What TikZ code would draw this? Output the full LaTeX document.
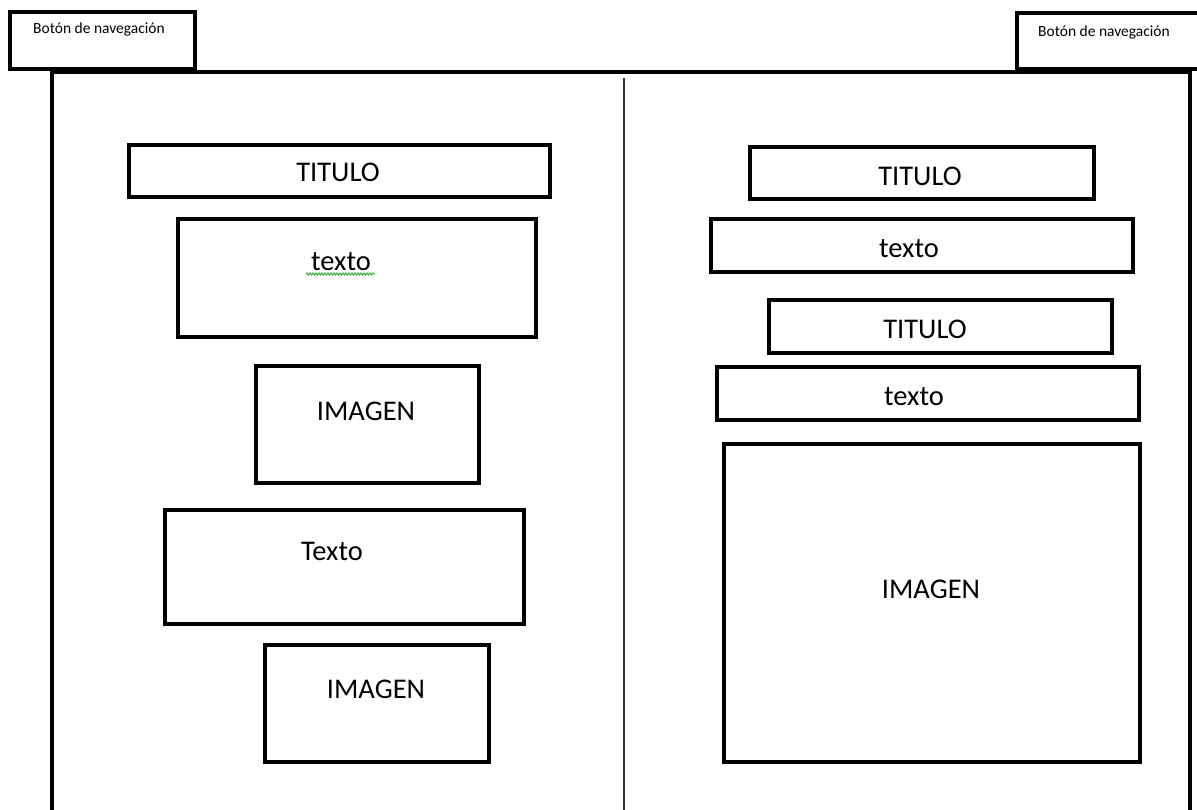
\documentclass[tikz,border=0pt]{standalone}
\usepackage{fontspec}
\setmainfont{Carlito}
\usetikzlibrary{decorations.pathmorphing}

\begin{document}
\begin{tikzpicture}[x=1pt,y=-1pt,
    caja/.style={draw=black, line width=4pt},
    marco/.style={draw=black, line width=4.5pt},
    etiqueta/.style={font=\fontsize{28.5}{30}\selectfont, text=black},
    boton/.style={font=\fontsize{15.5}{17}\selectfont, anchor=west, inner sep=0pt}]
    \clip (0,0) rectangle (1197,810);
    \fill[white] (0,0) rectangle (1197,810);

    % Marco de la pagina y linea central
    \draw[marco] (52,815) -- (52,72) -- (1190,72) -- (1190,815);
    \draw[line width=2pt, black!80] (624,78) -- (624,815);

    % Botones de navegacion arriba
    \filldraw[caja, fill=white] (10,12) rectangle (195,69);
    \filldraw[caja, fill=white] (1017,13) rectangle (1215,69);
    \node[boton] (navIzq) at (33,29) {Botón de navegación};
    \node[boton] (navDer) at (1038,32) {Botón de navegación};

    % Columna izquierda
    \draw[caja] (129,145) rectangle (550,197);
    \draw[caja] (178,219) rectangle (536,337);
    \draw[caja] (256,366) rectangle (479,483);
    \draw[caja] (165,510) rectangle (524,624);
    \draw[caja] (265,645) rectangle (489,762);

    \node[etiqueta] (tituloIzq) at (338,172) {TITULO};
    \node[etiqueta] (textoIzq)  at (341,262) {texto};
    \node[etiqueta] (imagenIzqA) at (366,411) {IMAGEN};
    \node[etiqueta] (textoIzqB) at (332,551) {Texto};
    \node[etiqueta] (imagenIzqB) at (376,689) {IMAGEN};
    % subrayado del corrector
    \draw[green!60!black!80, line width=1pt,
          decorate, decoration={snake, amplitude=1pt, segment length=3pt}]
          (306,274) -- (375,274);

    % Columna derecha
    \draw[caja] (750,147) rectangle (1094,199);
    \draw[caja] (711,219) rectangle (1133,272);
    \draw[caja] (769,300) rectangle (1112,353);
    \draw[caja] (717,367) rectangle (1139,420);
    \draw[caja] (724,444) rectangle (1140,762);

    \node[etiqueta] (tituloDerA) at (920,176) {TITULO};
    \node[etiqueta] (textoDerA)  at (909,249) {texto};
    \node[etiqueta] (tituloDerB) at (925,329) {TITULO};
    \node[etiqueta] (textoDerB)  at (914,397) {texto};
    \node[etiqueta] (imagenDer)  at (931,589) {IMAGEN};
\end{tikzpicture}
\end{document}
